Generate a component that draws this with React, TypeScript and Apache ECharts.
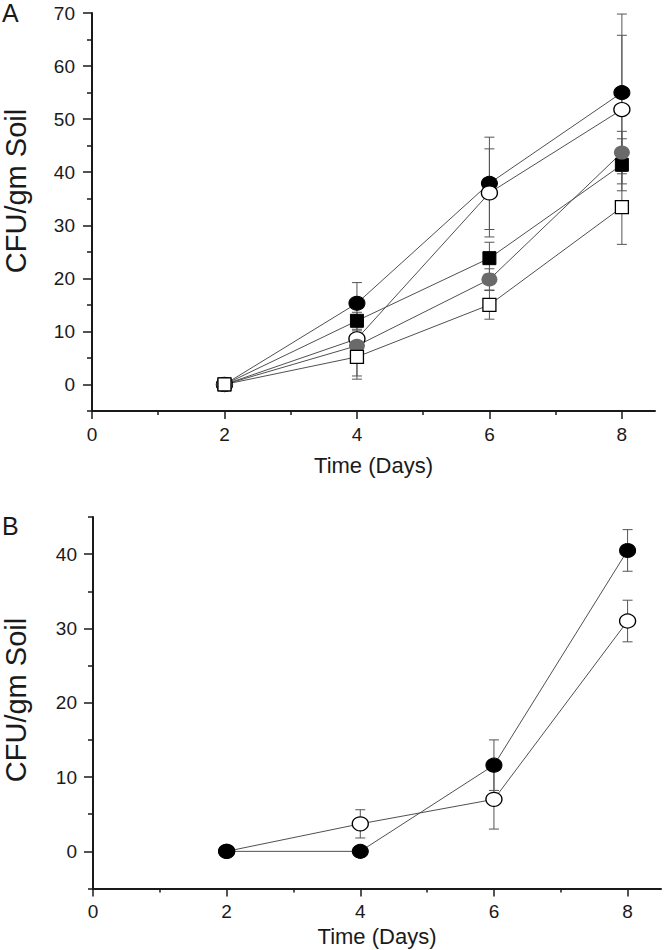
import React, { useEffect, useRef } from "react";
import * as echarts from "echarts";

// ---------- Data ----------
const daysA = [2, 4, 6, 8];
const aBlackCircle = [0, 15.3, 37.9, 55.0];
const aBlackCircleErr = [0, 3.9, 8.7, 14.8];
const aOpenCircle = [0, 8.6, 36.1, 51.8];
const aOpenCircleErr = [0, 1.5, 8.3, 14.0];
const aBlackSquare = [0, 12.0, 23.8, 41.4];
const aBlackSquareErr = [0, 1.6, 3.0, 4.9];
const aGrayCircle = [0, 7.3, 19.8, 43.7];
const aGrayCircleErr = [0, 5.7, 2.0, 4.0];
const aOpenSquare = [0, 5.2, 15.0, 33.4];
const aOpenSquareErr = [0, 4.2, 2.7, 7.0];

const daysB = [2, 4, 6, 8];
const bOpenCircle = [0, 3.7, 7.0, 31.0];
const bOpenCircleErr = [0, 1.9, 4.0, 2.8];
const bBlackCircle = [0, 0, 11.6, 40.5];
const bBlackCircleErr = [0, 0, 3.4, 2.8];

const xMajorTicks = [0, 2, 4, 6, 8];
const xMinorTicks = [1, 3, 5, 7];
const yMajorTicksA = [0, 10, 20, 30, 40, 50, 60, 70];
const yMinorTicksA = [-5, 5, 15, 25, 35, 45, 55, 65];
const yMajorTicksB = [0, 10, 20, 30, 40];
const yMinorTicksB = [-5, 5, 15, 25, 35, 45];

const xTitle = "Time (Days)";
const yTitle = "CFU/gm Soil";

// ---------- Styles ----------
const FONT = "Liberation Sans";
const TEXT = "#1a1a1a";
const AXIS = "#1a1a1a";
const LINE = "#505050";
const ERR = "#555555";

const markers: Record<string, any> = {
  blackCircle: { symbol: "circle", size: [16, 14], fill: "#000000", border: 1 },
  openCircle: { symbol: "circle", size: [16, 14], fill: "#ffffff", border: 1.3 },
  grayCircle: { symbol: "circle", size: [16, 14], fill: "#6a6a6a", border: 0 },
  blackSquare: { symbol: "rect", size: [13, 13], fill: "#000000", border: 1 },
  openSquare: { symbol: "rect", size: [13, 13], fill: "#ffffff", border: 1.3 },
};

function lineSeries(name: string, xs: number[], ys: number[], g: number, mk: string) {
  const m = markers[mk];
  return {
    type: "line",
    name,
    xAxisIndex: g * 2,
    yAxisIndex: g * 2,
    data: xs.map((x, i) => [x, ys[i]]),
    symbol: m.symbol,
    symbolSize: m.size,
    showSymbol: true,
    itemStyle: { color: m.fill, borderColor: "#000", borderWidth: m.border, opacity: 1 },
    lineStyle: { color: LINE, width: 1 },
    emphasis: { disabled: true },
    z: 3,
  };
}

function errSeries(xs: number[], ys: number[], errs: number[], g: number) {
  const data = xs
    .map((x, i) => [x, ys[i] - errs[i], ys[i] + errs[i]])
    .filter((_, i) => errs[i] > 0);
  return {
    type: "custom",
    xAxisIndex: g * 2,
    yAxisIndex: g * 2,
    data,
    z: 2,
    silent: true,
    renderItem: (params: any, api: any) => {
      const x = api.value(0);
      const lo = api.coord([x, api.value(1)]);
      const hi = api.coord([x, api.value(2)]);
      const w = 5;
      const st = { stroke: ERR, lineWidth: 1 };
      return {
        type: "group",
        children: [
          { type: "line", shape: { x1: lo[0], y1: lo[1], x2: hi[0], y2: hi[1] }, style: st },
          { type: "line", shape: { x1: lo[0] - w, y1: lo[1], x2: lo[0] + w, y2: lo[1] }, style: st },
          { type: "line", shape: { x1: hi[0] - w, y1: hi[1], x2: hi[0] + w, y2: hi[1] }, style: st },
        ],
      };
    },
  };
}

function xAxes(g: number, nameGap: number, labelMargin: number) {
  return [
    {
      type: "value",
      gridIndex: g,
      position: "bottom",
      min: 0,
      max: 8.5,
      name: xTitle,
      nameLocation: "middle",
      nameGap,
      nameTextStyle: { fontFamily: FONT, fontSize: 22, color: TEXT },
      axisLine: { show: true, onZero: false, lineStyle: { color: AXIS, width: 2 } },
      axisTick: { show: true, inside: false, length: 8, customValues: xMajorTicks, lineStyle: { color: AXIS, width: 1.5 } },
      axisLabel: { show: true, customValues: xMajorTicks, margin: labelMargin, fontFamily: FONT, fontSize: 19, color: TEXT },
      splitLine: { show: false },
    },
    {
      type: "value",
      gridIndex: g,
      position: "bottom",
      min: 0,
      max: 8.5,
      axisLine: { show: false, onZero: false },
      axisTick: { show: true, inside: false, length: 4, customValues: xMinorTicks, lineStyle: { color: AXIS, width: 1.5 } },
      axisLabel: { show: false },
      splitLine: { show: false },
    },
  ];
}

function yAxes(g: number, max: number, major: number[], minor: number[], labelMargin: number) {
  return [
    {
      type: "value",
      gridIndex: g,
      position: "left",
      min: -5,
      max,
      axisLine: { show: true, onZero: false, lineStyle: { color: AXIS, width: 2 } },
      axisTick: { show: true, inside: false, length: 9, customValues: major, lineStyle: { color: AXIS, width: 1.5 } },
      axisLabel: { show: true, customValues: major, margin: labelMargin, fontFamily: FONT, fontSize: 19, color: TEXT },
      splitLine: { show: false },
    },
    {
      type: "value",
      gridIndex: g,
      position: "left",
      min: -5,
      max,
      axisLine: { show: false, onZero: false },
      axisTick: { show: true, inside: false, length: 5, customValues: minor, lineStyle: { color: AXIS, width: 1.5 } },
      axisLabel: { show: false },
      splitLine: { show: false },
    },
  ];
}

export default function App() {
  const ref = useRef<HTMLDivElement>(null);

  useEffect(() => {
    if (!ref.current) return;
    const chart = echarts.init(ref.current, null, { renderer: "svg" });

    const option: any = {
      animation: false,
      backgroundColor: "#ffffff",
      grid: [
        { left: 92, top: 13, width: 563, height: 398 },
        { left: 93, top: 517, width: 568, height: 371.5 },
      ],
      xAxis: [...xAxes(0, 43, 14), ...xAxes(1, 37, 13)],
      yAxis: [
        ...yAxes(0, 70, yMajorTicksA, yMinorTicksA, 17),
        ...yAxes(1, 45, yMajorTicksB, yMinorTicksB, 16),
      ],
      graphic: [
        {
          type: "text",
          x: 2,
          y: 13,
          style: { text: "A", font: `25px "${FONT}"`, fill: TEXT, textAlign: "left", textVerticalAlign: "middle" },
        },
        {
          type: "text",
          x: 2,
          y: 526,
          style: { text: "B", font: `25px "${FONT}"`, fill: TEXT, textAlign: "left", textVerticalAlign: "middle" },
        },
        {
          type: "text",
          x: 16,
          y: 191,
          rotation: Math.PI / 2,
          style: { text: yTitle, font: `29px "${FONT}"`, fill: TEXT, textAlign: "center", textVerticalAlign: "middle" },
        },
        {
          type: "text",
          x: 16,
          y: 700,
          rotation: Math.PI / 2,
          style: { text: yTitle, font: `29px "${FONT}"`, fill: TEXT, textAlign: "center", textVerticalAlign: "middle" },
        },
      ],
      series: [
        errSeries(daysA, aBlackCircle, aBlackCircleErr, 0),
        errSeries(daysA, aOpenCircle, aOpenCircleErr, 0),
        errSeries(daysA, aBlackSquare, aBlackSquareErr, 0),
        errSeries(daysA, aGrayCircle, aGrayCircleErr, 0),
        errSeries(daysA, aOpenSquare, aOpenSquareErr, 0),
        lineSeries("A black circle", daysA, aBlackCircle, 0, "blackCircle"),
        lineSeries("A open circle", daysA, aOpenCircle, 0, "openCircle"),
        lineSeries("A black square", daysA, aBlackSquare, 0, "blackSquare"),
        lineSeries("A gray circle", daysA, aGrayCircle, 0, "grayCircle"),
        lineSeries("A open square", daysA, aOpenSquare, 0, "openSquare"),
        errSeries(daysB, bOpenCircle, bOpenCircleErr, 1),
        errSeries(daysB, bBlackCircle, bBlackCircleErr, 1),
        lineSeries("B open circle", daysB, bOpenCircle, 1, "openCircle"),
        lineSeries("B black circle", daysB, bBlackCircle, 1, "blackCircle"),
      ],
    };

    chart.setOption(option);
    return () => chart.dispose();
  }, []);

  return (
    <div
      ref={ref}
      style={{ position: "absolute", left: 0, top: 0, width: 666, height: 950, background: "#fff" }}
    />
  );
}
